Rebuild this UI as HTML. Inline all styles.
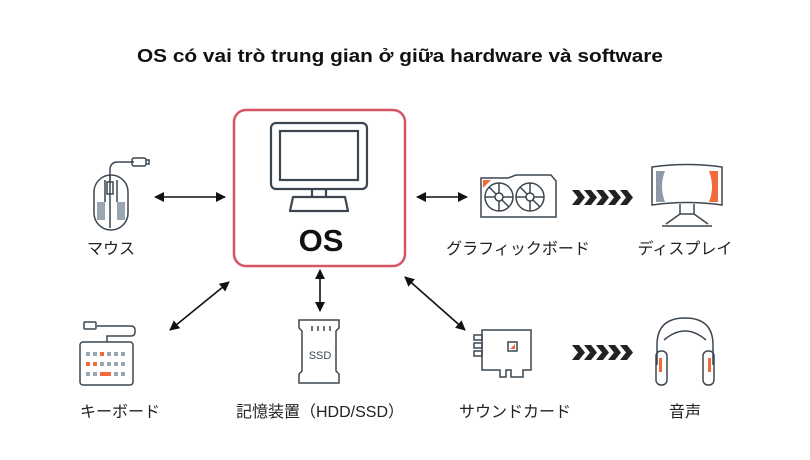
<!DOCTYPE html>
<html><head><meta charset="utf-8"><style>
body{margin:0;background:#fff}
svg{display:block}
text{font-family:"Liberation Sans","Noto Sans CJK JP",sans-serif}
</style></head><body>
<svg width="810" height="460" viewBox="0 0 810 460" xmlns="http://www.w3.org/2000/svg">
<defs>
<marker id="ah" markerWidth="10" markerHeight="10" refX="9" refY="5" orient="auto-start-reverse" markerUnits="userSpaceOnUse"><path d="M0,0 L10,5 L0,10 Z" fill="#111"/></marker>
<g id="chev"><path d="M0,0 h7 l6,7.5 l-6,7.5 h-7 l6,-7.5 Z" fill="#222"/></g>
</defs>
<text x="400" y="62" font-size="18" font-weight="bold" text-anchor="middle" fill="#111" textLength="526" lengthAdjust="spacingAndGlyphs">OS có vai trò trung gian ở giữa hardware và software</text>

<!-- OS box -->
<rect x="234" y="110" width="171" height="156" rx="12" fill="none" stroke="#d6555e" stroke-width="2.5"/>
<g fill="none" stroke="#3c4650" stroke-width="2.2">
<rect x="271" y="123" width="96" height="66" rx="5"/>
<rect x="280" y="131" width="78" height="49"/>
<path d="M312,189 v8 M326,189 v8"/>
<path d="M293,197 h52 l3,14 h-58 Z" stroke-linejoin="round"/>
</g>
<text x="321" y="251" font-size="31" font-weight="bold" text-anchor="middle" fill="#111">OS</text>

<!-- mouse -->
<g fill="none" stroke="#3c4650" stroke-width="1.5">
<rect x="94" y="175" width="34" height="55" rx="17"/>
<path d="M110,175 v53 M105,180 v22 M117,180 v22"/>
<rect x="107" y="182" width="6" height="12"/>
<path d="M110,182 v-12 q0,-8 8,-8 h16"/>
<rect x="132" y="158" width="14" height="8" rx="2"/>
<path d="M146,160 h3 v4 h-3"/>
</g>
<rect x="97" y="202" width="8" height="18" fill="#9aa6b2"/>
<rect x="117" y="202" width="8" height="18" fill="#9aa6b2"/>
<text x="111" y="254" font-size="16" text-anchor="middle" fill="#222">マウス</text>

<!-- arrows -->
<g stroke="#111" stroke-width="1.6" fill="none">
<line x1="155" y1="197" x2="225" y2="197" marker-start="url(#ah)" marker-end="url(#ah)"/>
<line x1="417" y1="197" x2="467" y2="197" marker-start="url(#ah)" marker-end="url(#ah)"/>
<line x1="229" y1="282" x2="170" y2="330" marker-start="url(#ah)" marker-end="url(#ah)"/>
<line x1="320" y1="270" x2="320" y2="311" marker-start="url(#ah)" marker-end="url(#ah)"/>
<line x1="405" y1="277" x2="465" y2="330" marker-start="url(#ah)" marker-end="url(#ah)"/>
</g>

<!-- GPU -->
<g fill="none" stroke="#3c4650" stroke-width="1.5">
<path d="M481,178 h27 l8,-3 h35 l5,6 v36 h-75 Z"/>
<circle cx="499" cy="197" r="14"/><circle cx="499" cy="197" r="4"/>
<circle cx="530" cy="197" r="14"/><circle cx="530" cy="197" r="4"/>
<path d="M499,183 v10 M499,201 v10 M485,197 h10 M503,197 h10 M489,187 l7,7 M509,207 l-7,-7 M530,183 v10 M530,201 v10 M516,197 h10 M534,197 h10 M520,187 l7,7 M540,207 l-7,-7"/>
</g>
<path d="M483,180 h8 l-8,8 Z" fill="#f26a3a"/>
<g transform="translate(572,190)"><use href="#chev"/><use href="#chev" x="12"/><use href="#chev" x="24"/><use href="#chev" x="36"/><use href="#chev" x="48"/></g>

<!-- display -->
<g fill="none" stroke="#3c4650" stroke-width="1.5">
<path d="M652,167 q35,-5 70,0 v38 q-35,-5 -70,0 Z"/>
<path d="M680,204 v10 M694,204 v10 M666,224 l14,-10 h14 l14,10 M662,226 h50"/>
</g>
<path d="M656,171 h9 q-6,15 0,31 h-9 Z" fill="#8e9aa6"/>
<path d="M709,171 h9 v31 h-9 q6,-15 0,-31 Z" fill="#f26a3a"/>
<text x="518" y="254" font-size="16" text-anchor="middle" fill="#222">グラフィックボード</text>
<text x="685" y="254" font-size="16" text-anchor="middle" fill="#222">ディスプレイ</text>

<!-- keyboard -->
<g fill="none" stroke="#3c4650" stroke-width="1.5">
<rect x="80" y="342" width="53" height="43" rx="3"/>
<path d="M107,342 v-6 h24 q4,0 4,-4 v-2 q0,-4 -4,-4 h-34"/>
<rect x="84" y="322" width="12" height="7" rx="1"/>
</g>
<g fill="#9aa6b2">
<rect x="86" y="352" width="4" height="4"/><rect x="93" y="352" width="4" height="4"/><rect x="107" y="352" width="4" height="4"/><rect x="114" y="352" width="4" height="4"/><rect x="121" y="352" width="4" height="4"/>
<rect x="100" y="362" width="4" height="4"/><rect x="107" y="362" width="4" height="4"/><rect x="114" y="362" width="4" height="4"/><rect x="121" y="362" width="4" height="4"/>
<rect x="86" y="372" width="4" height="4"/><rect x="93" y="372" width="4" height="4"/><rect x="114" y="372" width="4" height="4"/><rect x="121" y="372" width="4" height="4"/>
</g>
<g fill="#f26a3a"><rect x="100" y="352" width="4" height="4"/><rect x="86" y="362" width="4" height="4"/><rect x="93" y="362" width="4" height="4"/><rect x="100" y="372" width="11" height="4"/></g>
<text x="120" y="417" font-size="16" text-anchor="middle" fill="#222">キーボード</text>

<!-- SSD -->
<g fill="none" stroke="#3c4650" stroke-width="1.5">
<path d="M299,320 h40 v8 l-3,3 v40 l3,3 v9 h-40 v-9 l3,-3 v-40 l-3,-3 Z"/>
<path d="M312,326 v5 M318,326 v5 M324,326 v5 M330,326 v5"/>
</g>
<text x="320" y="359" font-size="11" text-anchor="middle" fill="#3c4650">SSD</text>
<text x="320" y="417" font-size="16" text-anchor="middle" fill="#222">記憶装置（HDD/SSD）</text>

<!-- sound card -->
<g fill="none" stroke="#3c4650" stroke-width="1.5">
<path d="M482,330 h49 v40 h-8 v7 h-12 v-7 h-5 v7 h-6 v-7 h-18 Z"/>
<path d="M474,335 h8 v5 h-8 Z M474,343 h8 v5 h-8 Z M474,351 h8 v5 h-8 Z"/>
<rect x="508" y="342" width="9" height="9"/>
</g>
<path d="M510,349 l5,-5 v5 Z" fill="#f26a3a"/>
<g transform="translate(572,345)"><use href="#chev"/><use href="#chev" x="12"/><use href="#chev" x="24"/><use href="#chev" x="36"/><use href="#chev" x="48"/></g>

<!-- headphones -->
<g fill="none" stroke="#3c4650" stroke-width="1.5">
<path d="M657,365 v-20 q0,-27 28,-27 q28,0 28,27 v20"/>
<path d="M664,340 q21,-18 42,0"/>
<rect x="656" y="351" width="11" height="34" rx="5"/>
<rect x="703" y="351" width="11" height="34" rx="5"/>
</g>
<rect x="659" y="358" width="3" height="14" fill="#f26a3a"/>
<rect x="708" y="358" width="3" height="14" fill="#f26a3a"/>
<text x="515" y="417" font-size="16" text-anchor="middle" fill="#222">サウンドカード</text>
<text x="685" y="417" font-size="16" text-anchor="middle" fill="#222">音声</text>
</svg>
</body></html>
